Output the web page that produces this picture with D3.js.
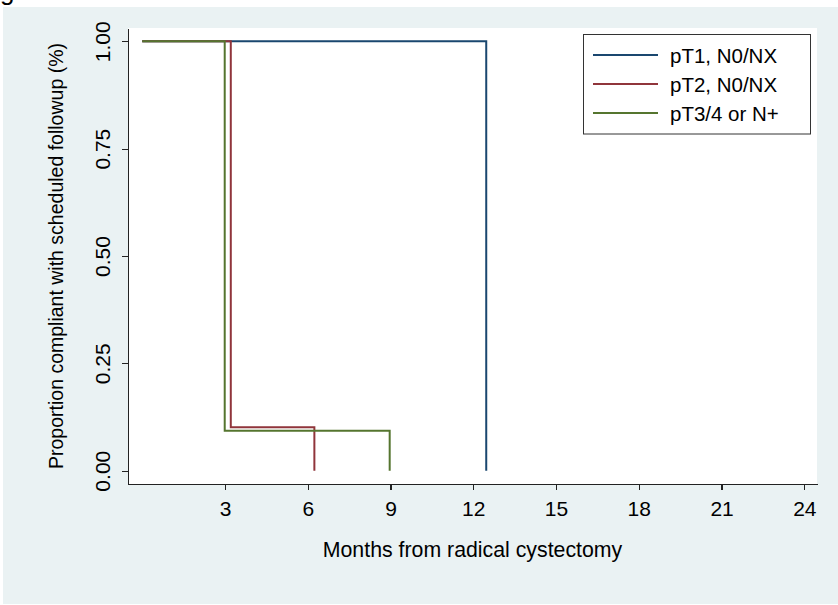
<!DOCTYPE html>
<html>
<head>
<meta charset="utf-8">
<script src="https://cdn.jsdelivr.net/npm/d3@7"></script>
<style>
    body { margin: 0; background: #fff; }
    svg text { font-family: "Liberation Sans", Arial, sans-serif; fill: #000; }
    .axis path, .axis line { stroke: #222; stroke-width: 1.3; shape-rendering: crispEdges; }
</style>
</head>
<body>
<div id="chart"></div>
<script>
    // groups and their step data (months, proportion compliant)
    var groups = ["pT1, N0/NX", "pT2, N0/NX", "pT3/4 or N+"];
    var colours = ["#1a476f", "#90353b", "#55752f"];

    var pT1Months = [0, 12.47];
    var pT1Prop = [1.0, 0.0];
    var pT2Months = [0, 3.21, 6.24];
    var pT2Prop = [1.0, 0.101, 0.0];
    var pT3Months = [0, 2.99, 8.97];
    var pT3Prop = [1.0, 0.093, 0.0];

    var xTicks = [3, 6, 9, 12, 15, 18, 21, 24];
    var yTicks = [0, 0.25, 0.5, 0.75, 1];

    var width = 838,
        height = 605;

    var plot = { left: 128, right: 817, top: 28, bottom: 484 };

    var svg = d3.select("#chart").append("svg")
        .attr("width", width)
        .attr("height", height);

    // outer background
    svg.append("rect")
        .attr("x", 3).attr("y", 7)
        .attr("width", width - 3).attr("height", 597)
        .attr("fill", "#eaf2f3");

    // cut-off title glyph at the very top
    svg.append("text")
        .attr("x", 0).attr("y", 0)
        .attr("font-size", "26px")
        .text("g");

    svg.append("rect")
        .attr("x", plot.left).attr("y", plot.top)
        .attr("width", plot.right - plot.left)
        .attr("height", plot.bottom - plot.top)
        .attr("fill", "#fff");

    var x = d3.scaleLinear()
        .domain([-0.516, 24.46])
        .range([plot.left, plot.right]);

    var y = d3.scaleLinear()
        .domain([-0.031, 1.031])
        .range([plot.bottom, plot.top]);

    var xAxis = d3.axisBottom(x)
        .tickValues(xTicks)
        .tickSize(6)
        .tickSizeOuter(0)
        .tickPadding(11);

    var yAxis = d3.axisLeft(y)
        .tickValues(yTicks)
        .tickSize(6)
        .tickSizeOuter(0)
        .tickFormat(d3.format(".2f"));

    var xAxisElem = svg.append("g")
        .attr("class", "axis")
        .attr("transform", "translate(0," + plot.bottom + ")")
        .call(xAxis);
    xAxisElem.selectAll("text")
        .attr("font-size", "21px");

    var yAxisElem = svg.append("g")
        .attr("class", "axis")
        .attr("transform", "translate(" + plot.left + ",0)")
        .call(yAxis);
    yAxisElem.selectAll("text")
        .attr("font-size", "21px")
        .attr("text-anchor", "middle")
        .attr("x", 0)
        .attr("y", -18)
        .attr("dy", null)
        .attr("transform", "rotate(-90)");

    svg.selectAll(".axis").attr("font-family", null);

    // axis titles
    svg.append("text")
        .attr("x", (plot.left + plot.right) / 2)
        .attr("y", 557)
        .attr("text-anchor", "middle")
        .attr("font-size", "21.3px")
        .text("Months from radical cystectomy");

    svg.append("text")
        .attr("text-anchor", "middle")
        .attr("font-size", "19.5px")
        .attr("transform", "translate(63," + ((plot.top + plot.bottom) / 2) + ") rotate(-90)")
        .text("Proportion compliant with scheduled followup (%)");

    // build series
    var series = [
        { name: groups[0], months: pT1Months, prop: pT1Prop },
        { name: groups[1], months: pT2Months, prop: pT2Prop },
        { name: groups[2], months: pT3Months, prop: pT3Prop }
    ].map(function(s, i) {
        return {
            name: s.name,
            colour: colours[i],
            points: s.months.map(function(m, j) { return { t: m, p: s.prop[j] }; })
        };
    });

    var line = d3.line()
        .curve(d3.curveStepAfter)
        .x(function(d) { return x(d.t); })
        .y(function(d) { return y(d.p); });

    svg.append("g")
        .selectAll("path")
        .data(series)
        .enter().append("path")
        .attr("d", function(d) { return line(d.points); })
        .attr("fill", "none")
        .attr("stroke", function(d) { return d.colour; })
        .attr("stroke-width", 2);

    // legend
    var legend = svg.append("g");
    legend.append("rect")
        .attr("x", 583.5).attr("y", 34.5)
        .attr("width", 227).attr("height", 99.5)
        .attr("fill", "#fff")
        .attr("stroke", "#333")
        .attr("stroke-width", 1);

    var items = legend.selectAll(".item")
        .data(series)
        .enter().append("g")
        .attr("class", "item")
        .attr("transform", function(d, i) { return "translate(0," + (55 + i * 29) + ")"; });

    items.append("line")
        .attr("x1", 593).attr("x2", 658)
        .attr("y1", 0).attr("y2", 0)
        .attr("stroke", function(d) { return d.colour; })
        .attr("stroke-width", 2);

    items.append("text")
        .attr("x", 670)
        .attr("y", 7.5)
        .attr("font-size", "20.5px")
        .text(function(d) { return d.name; });
</script>
</body>
</html>
